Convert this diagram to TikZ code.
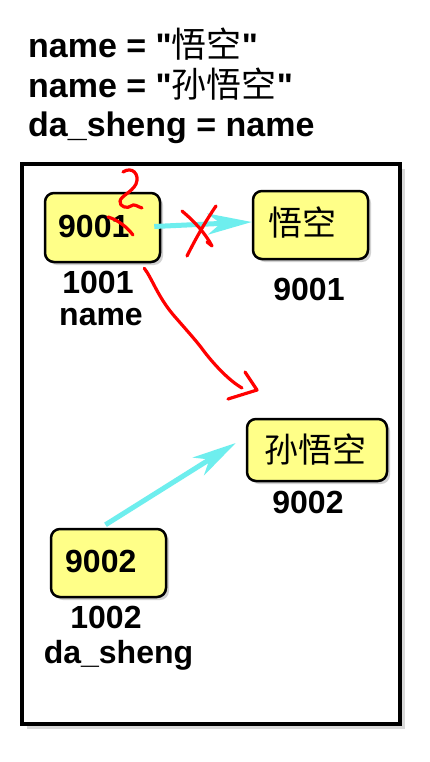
\documentclass[tikz,border=0pt]{standalone}
\usepackage{fontspec}
\setmainfont{Liberation Sans}
\newfontfamily\cjk{Noto Sans CJK SC}
\usetikzlibrary{arrows.meta,shadows,calc}
\definecolor{boxyellow}{RGB}{255,255,136}
\definecolor{arrowcyan}{RGB}{110,238,238}
\definecolor{inkred}{RGB}{255,0,0}
\newcommand{\titlecjk}[1]{{\mdseries\cjk\fontsize{35}{38}\selectfont #1}}
\begin{document}
\begin{tikzpicture}[x=1pt,y=-1pt,
  mem/.style={draw=black, line width=2.5pt, fill=boxyellow, rounded corners=9pt,
    inner sep=0pt, drop shadow={shadow xshift=3pt,shadow yshift=-3pt,opacity=0.35}},
  txt/.style={font=\fontsize{32}{38}\selectfont\bfseries, inner sep=0pt},
  ttl/.style={font=\fontsize{34}{40}\selectfont\bfseries, inner sep=0pt, anchor=base west},
  cjktxt/.style={font=\fontsize{34}{38}\selectfont\cjk, inner sep=0pt},
  pointer/.style={draw=arrowcyan, line width=5pt,
    -{Stealth[length=44pt,width=21pt,inset=13pt]}},
  ink/.style={draw=inkred, line width=3.2pt, line cap=round, line join=round}]
\useasboundingbox (0,0) rectangle (430,762);
% title lines
\node[ttl] (t1) at (28,58) {name = \textquotedbl\titlecjk{悟空}\textquotedbl};
\node[ttl] (t2) at (28,98) {name = \textquotedbl\titlecjk{孙悟空}\textquotedbl};
\node[ttl] (t3) at (28,137) {da\_sheng = name};
% frame
\node[draw=black, line width=4pt, fill=white, minimum width=378pt, minimum height=560pt,
  inner sep=0pt, drop shadow={shadow xshift=5pt,shadow yshift=-5pt,opacity=0.3}]
  (frame) at (211,444) {};
% boxes
\node[mem, minimum width=115pt, minimum height=69pt] (boxA) at (102.5,227.5) {};
\node[txt, anchor=base west] (vA) at (58,237) {9001};
\node[txt, anchor=base] (aA) at (98,293) {1001};
\node[txt, anchor=base] (nA) at (101,325) {name};

\node[mem, minimum width=115pt, minimum height=68pt] (boxB) at (310.5,225) {};
\node[cjktxt] (vB) at (302,222) {悟空};
\node[txt, anchor=base] (aB) at (309,300) {9001};

\node[mem, minimum width=140pt, minimum height=62pt] (boxC) at (317,450) {};
\node[cjktxt] (vC) at (315,449) {孙悟空};
\node[txt, anchor=base] (aC) at (308,513) {9002};

\node[mem, minimum width=115pt, minimum height=68pt] (boxD) at (108.5,563) {};
\node[txt, anchor=base west] (vD) at (65,572) {9002};
\node[txt, anchor=base] (aD) at (106,628) {1002};
\node[txt, anchor=base] (nD) at (118.5,663) {da\_sheng};
% cyan pointers
\draw[pointer] ([xshift=-7pt,yshift=1pt]boxA.east) -- ([yshift=3pt]boxB.west);
\draw[pointer] ([xshift=-3pt,yshift=3pt]boxD.north) -- ([xshift=-10pt,yshift=7pt]boxC.west);
% red ink: the "2"
\draw[ink] (123,172) .. controls (132,166) and (140,174) .. (136,184)
  .. controls (132,192) and (121,196) .. (120,201)
  .. controls (119,207) and (128,209) .. (131,206)
  .. controls (134,203) and (138,207) .. (142,208);
% strike across the 1
\draw[ink] (108,217) .. controls (118,220) and (127,227) .. (133,235);
% red X over the old pointer
\draw[ink] (182,211) .. controls (195,222) and (205,233) .. (212,246) -- (207,242);
\draw[ink] (216,206) .. controls (205,222) and (195,240) .. (187,256);
% red new pointer
\coordinate (rs) at ([xshift=-17pt,yshift=-5pt]boxA.south east);
\coordinate (re) at (242,388);
\draw[ink] (rs) .. controls (152,278) and (158,298) .. (176,318)
  .. controls (190,334) and (198,343) .. (203,350)
  .. controls (212,362) and (228,380) .. (re);
\draw[ink] (245,372) -- (257,390) -- (228,399);
\end{tikzpicture}
\end{document}
